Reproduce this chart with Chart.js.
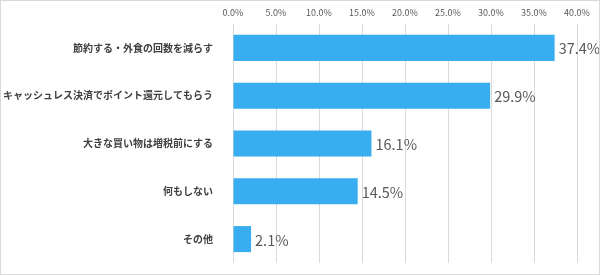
<!DOCTYPE html>
<html>
<head>
<meta charset="utf-8">
<script src="https://cdn.jsdelivr.net/npm/chart.js@4/dist/chart.umd.min.js"></script>
<style>
  html, body { margin: 0; padding: 0; background: #fff; }
  #wrap { width: 600px; height: 275px; box-sizing: border-box; border: 1px solid #d9d9d9; position: relative; overflow: hidden; }
  #wrap canvas { position: absolute; left: 0; top: 0; }
</style>
</head>
<body>
<div id="wrap"><canvas id="Survey" width="598" height="280"></canvas></div>
<script>
const categories = ['節約する・外食の回数を減らす', 'キャッシュレス決済でポイント還元してもらう', '大きな買い物は増税前にする', '何もしない', 'その他'];
const values = [37.4, 29.9, 16.1, 14.5, 2.1];
const tickStep = 5;
const tickMax = 40;

const FONT = '"Noto Sans CJK JP", "Noto Sans", sans-serif';

// value labels to the right of each bar
const valueLabels = {
    id: 'valueLabels',
    afterDatasetsDraw(chart) {
        const ctx = chart.ctx;
        const meta = chart.getDatasetMeta(0);
        ctx.save();
        ctx.font = '14.5px ' + FONT;
        ctx.fillStyle = '#595959';
        ctx.textAlign = 'left';
        ctx.textBaseline = 'middle';
        meta.data.forEach((bar, i) => {
            ctx.fillText(values[i].toFixed(1) + '%', bar.x + 4, bar.y + 1);
        });
        ctx.restore();
    }
};

const stx = document.getElementById('Survey').getContext('2d');
const Survey = new Chart(stx, {
    type: 'bar',
    data: {
        labels: categories,
        datasets: [{
            data: values,
            backgroundColor: '#38aef0',
            borderWidth: 0,
            categoryPercentage: 0.545,
            barPercentage: 1.0
        }]
    },
    options: {
        indexAxis: 'y',
        responsive: false,
        animation: false,
        layout: { autoPadding: false, padding: { top: 0, right: 22, bottom: 3, left: 0 } },
        plugins: {
            legend: { display: false },
            tooltip: { enabled: false }
        },
        scales: {
            x: {
                position: 'top',
                min: 0,
                max: tickMax,
                afterFit(scale) { scale.height = 23; },
                ticks: {
                    stepSize: tickStep,
                    padding: 6,
                    color: '#595959',
                    font: { family: FONT, size: 9 },
                    callback: v => v.toFixed(1) + '%'
                },
                grid: { color: '#d9d9d9', drawTicks: false },
                border: { display: false }
            },
            y: {
                afterFit(scale) { scale.width = 232; },
                ticks: {
                    padding: 12,
                    color: '#404040',
                    font: { family: FONT, size: 10, weight: 'bold' }
                },
                grid: { display: false },
                border: { display: false }
            }
        }
    },
    plugins: [valueLabels]
});
</script>
</body>
</html>
